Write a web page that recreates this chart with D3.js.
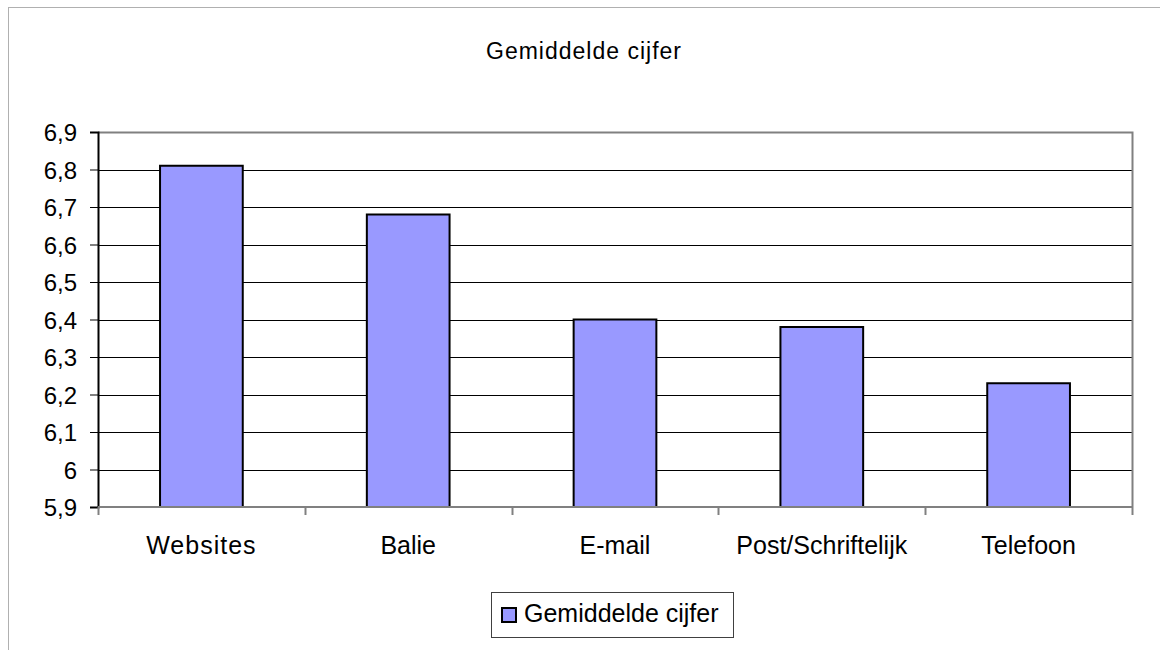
<!DOCTYPE html>
<html>
<head>
<meta charset="utf-8">
<script src="https://cdn.jsdelivr.net/npm/d3@7"></script>
<style>
  body { margin: 0; background: #fff; }
  text { font-family: "Liberation Sans", Arial, sans-serif; fill: #000; }
</style>
</head>
<body>
<div id="chart"></div>
<script>
// data
const categories = ["Websites", "Balie", "E-mail", "Post/Schriftelijk", "Telefoon"];
const values = [6.81, 6.68, 6.40, 6.38, 6.23];
const yTicks = [5.9, 6.0, 6.1, 6.2, 6.3, 6.4, 6.5, 6.6, 6.7, 6.8, 6.9];
const seriesName = "Gemiddelde cijfer";

const width = 1160, height = 650;
const plot = {left: 98, top: 132, right: 1132, bottom: 507};

const svg = d3.select("#chart").append("svg")
    .attr("width", width)
    .attr("height", height);

// outer frame (cut off at right/bottom)
svg.append("rect")
    .attr("x", 8.5).attr("y", 7.5)
    .attr("width", 1170).attr("height", 700)
    .attr("fill", "none")
    .attr("stroke", "#b0b0b0");

svg.append("text")
    .attr("x", 584).attr("y", 59)
    .attr("text-anchor", "middle")
    .style("font-size", "23px")
    .style("letter-spacing", "1px")
    .text("Gemiddelde cijfer");

const x = d3.scaleBand()
    .domain(categories)
    .range([plot.left, plot.right])
    .paddingInner(0.6)
    .paddingOuter(0.3);

const y = d3.scaleLinear()
    .domain([5.9, 6.9])
    .range([plot.bottom, plot.top]);

const fmt = v => (Math.round(v * 10) / 10).toString().replace(".", ",");

// gridlines
svg.append("g")
    .selectAll("line")
    .data(yTicks.slice(1, -1))
    .join("line")
    .attr("x1", plot.left).attr("x2", plot.right)
    .attr("y1", d => Math.round(y(d)) + 0.5)
    .attr("y2", d => Math.round(y(d)) + 0.5)
    .attr("stroke", "#000");

// plot border top + right
svg.append("path")
    .attr("d", `M${plot.left},${plot.top + 0.5}H${plot.right + 0.5}V${plot.bottom}`)
    .attr("fill", "none")
    .attr("stroke", "#808080")
    .attr("stroke-width", 2);

// bars
svg.append("g")
    .selectAll("rect")
    .data(values)
    .join("rect")
    .attr("x", (d, i) => x(categories[i]))
    .attr("y", d => y(d))
    .attr("width", x.bandwidth())
    .attr("height", d => y(5.9) - y(d))
    .attr("fill", "#9999ff")
    .attr("stroke", "#000")
    .attr("stroke-width", 2);

// y axis
const yAxis = svg.append("g")
    .attr("transform", `translate(${plot.left},0)`)
    .call(d3.axisLeft(y).tickValues(yTicks).tickSize(8).tickPadding(13).tickFormat(fmt));
yAxis.select(".domain").attr("stroke", "#000").attr("stroke-width", 2);
yAxis.selectAll(".tick line").attr("stroke", "#000");
yAxis.selectAll(".tick text")
    .attr("dy", "0.36em")
    .style("font-size", "24px")
    .style("font-family", "'Liberation Sans', Arial, sans-serif");

// x axis line and boundary ticks
const step = x.step();
const bounds = d3.range(categories.length + 1).map(i => plot.left + i * step);
svg.append("line")
    .attr("x1", plot.left).attr("x2", plot.right + 1)
    .attr("y1", plot.bottom).attr("y2", plot.bottom)
    .attr("stroke", "#808080").attr("stroke-width", 2);
svg.append("g")
    .selectAll("line")
    .data(bounds)
    .join("line")
    .attr("x1", d => Math.round(d) + 0.5).attr("x2", d => Math.round(d) + 0.5)
    .attr("y1", plot.bottom).attr("y2", plot.bottom + 8)
    .attr("stroke", "#808080").attr("stroke-width", 2);

svg.append("g")
    .selectAll("text")
    .data(categories)
    .join("text")
    .attr("x", d => x(d) + x.bandwidth() / 2)
    .attr("y", 554)
    .attr("text-anchor", "middle")
    .style("font-size", "25px")
    .style("letter-spacing", d => d === "Websites" ? "1px" : "0px")
    .text(d => d);

// legend
const legend = svg.append("g").attr("transform", "translate(491,592)");
legend.append("rect")
    .attr("x", 0.5).attr("y", 0.5)
    .attr("width", 242).attr("height", 45)
    .attr("fill", "#fff")
    .attr("stroke", "#404040");
legend.append("rect")
    .attr("x", 11).attr("y", 16)
    .attr("width", 14).attr("height", 14)
    .attr("fill", "#9999ff")
    .attr("stroke", "#000")
    .attr("stroke-width", 2);
legend.append("text")
    .attr("x", 33).attr("y", 30)
    .style("font-size", "25px")
    .text(seriesName);
</script>
</body>
</html>
